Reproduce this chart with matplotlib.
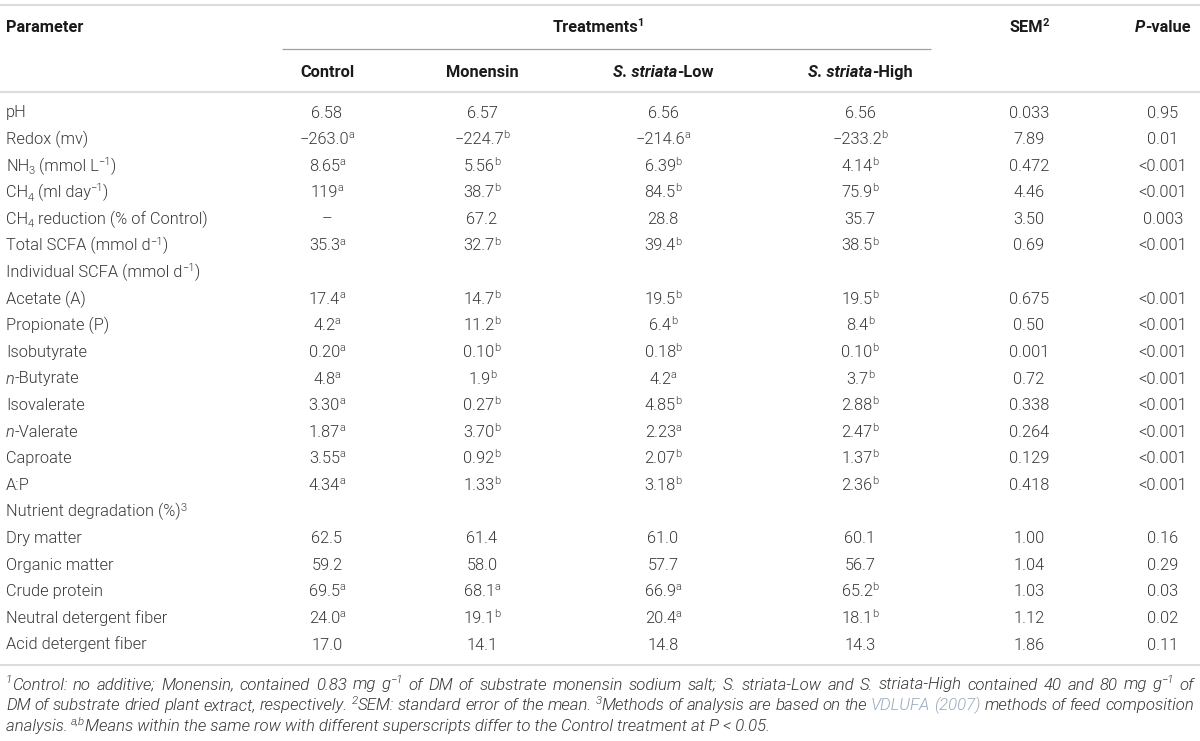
import re
import matplotlib
matplotlib.use("Agg")
import matplotlib.pyplot as plt
from matplotlib.font_manager import FontProperties

# ---------------- data ----------------
parameters = [
    "pH", "Redox (mv)", "NH_{3} (mmol L^{−1})", "CH_{4} (ml day^{−1})",
    "CH_{4} reduction (% of Control)", "Total SCFA (mmol d^{−1})",
    "Individual SCFA (mmol d^{−1})", "Acetate (A)", "Propionate (P)", "Isobutyrate",
    "*n*-Butyrate", "Isovalerate", "*n*-Valerate", "Caproate", "A:P",
    "Nutrient degradation (%)^{3}", "Dry matter", "Organic matter", "Crude protein",
    "Neutral detergent fiber", "Acid detergent fiber",
]
control = ["6.58", "−263.0", "8.65", "119", "–", "35.3", "", "17.4", "4.2", "0.20", "4.8",
           "3.30", "1.87", "3.55", "4.34", "", "62.5", "59.2", "69.5", "24.0", "17.0"]
control_sig = ["", "a", "a", "a", "", "a", "", "a", "a", "a", "a", "a", "a", "a", "a",
               "", "", "", "a", "a", ""]
monensin = ["6.57", "−224.7", "5.56", "38.7", "67.2", "32.7", "", "14.7", "11.2", "0.10", "1.9",
            "0.27", "3.70", "0.92", "1.33", "", "61.4", "58.0", "68.1", "19.1", "14.1"]
monensin_sig = ["", "b", "b", "b", "", "b", "", "b", "b", "b", "b", "b", "b", "b", "b",
                "", "", "", "a", "b", ""]
striata_low = ["6.56", "−214.6", "6.39", "84.5", "28.8", "39.4", "", "19.5", "6.4", "0.18", "4.2",
               "4.85", "2.23", "2.07", "3.18", "", "61.0", "57.7", "66.9", "20.4", "14.8"]
striata_low_sig = ["", "a", "b", "b", "", "b", "", "b", "b", "b", "a", "b", "a", "b", "b",
                   "", "", "", "a", "a", ""]
striata_high = ["6.56", "−233.2", "4.14", "75.9", "35.7", "38.5", "", "19.5", "8.4", "0.10", "3.7",
                "2.88", "2.47", "1.37", "2.36", "", "60.1", "56.7", "65.2", "18.1", "14.3"]
striata_high_sig = ["", "b", "b", "b", "", "b", "", "b", "b", "b", "b", "b", "b", "b", "b",
                    "", "", "", "b", "b", ""]
sem = ["0.033", "7.89", "0.472", "4.46", "3.50", "0.69", "", "0.675", "0.50", "0.001", "0.72",
       "0.338", "0.264", "0.129", "0.418", "", "1.00", "1.04", "1.03", "1.12", "1.86"]
p_value = ["0.95", "0.01", "<0.001", "<0.001", "0.003", "<0.001", "", "<0.001", "<0.001",
           "<0.001", "<0.001", "<0.001", "<0.001", "<0.001", "<0.001", "", "0.16", "0.29",
           "0.03", "0.02", "0.11"]

header_top = ["Parameter", "Treatments^{1}", "SEM^{2}", "*P*-value"]
treatment_labels = ["Control", "Monensin", "*S. striata*-Low", "*S. striata*-High"]

footnotes = [
    "^{1}Control: no additive; Monensin, contained 0.83 mg g^{−1} of DM of substrate monensin sodium salt; "
    "S. striata-Low and S. striata-High contained 40 and 80 mg g^{−1} of",
    "DM of substrate dried plant extract, respectively. ^{2}SEM: standard error of the mean. "
    "^{3}Methods of analysis are based on the #VDLUFA (2007)# methods of feed composition",
    "analysis. ^{a,b}Means within the same row with different superscripts differ to the Control "
    "treatment at P < 0.05.",
]

# ---------------- style ----------------
FAM = ["Roboto", "DejaVu Sans"]
FS = 11.8
FS_FOOT = 12.1
TXT = "#383838"
HDR = "#1a1a1a"
LINK = "#9aabbd"

fig = plt.figure(figsize=(12, 7.41), dpi=100)
ax = fig.add_axes([0, 0, 1, 1])
ax.set_xlim(0, 1200)
ax.set_ylim(741, 0)
ax.axis("off")
renderer = fig.canvas.get_renderer()

_cache = {}


def fprops(size, weight, style):
    return FontProperties(family=FAM, size=size, weight=weight, style=style)


def width(s, fp):
    key = (s, fp.get_size(), fp.get_weight(), fp.get_style())
    if key in _cache:
        return _cache[key]
    t = ax.text(0, 0, "|" + s + "|", fontproperties=fp)
    w = t.get_window_extent(renderer).width
    t.remove()
    t2 = ax.text(0, 0, "||", fontproperties=fp)
    w2 = t2.get_window_extent(renderer).width
    t2.remove()
    _cache[key] = w - w2
    return w - w2


TOKEN = re.compile(r"(_\{[^}]*\}|\^\{[^}]*\}|\*[^*]*\*|#[^#]*#|[^_^*#]+)")


def parse(markup):
    segs = []
    for tok in TOKEN.findall(markup):
        if tok.startswith("_{"):
            segs.append((tok[2:-1], "sub"))
        elif tok.startswith("^{"):
            segs.append((tok[2:-1], "sup"))
        elif tok.startswith("*"):
            segs.append((tok[1:-1], "it"))
        elif tok.startswith("#"):
            segs.append((tok[1:-1], "link"))
        else:
            segs.append((tok, "n"))
    return segs


def rich(x, y, markup, ha="left", size=FS, weight=300, style="normal",
         color=TXT, justify=None):
    segs = parse(markup)
    pieces = []
    for text, kind in segs:
        if justify is not None and kind in ("n", "it", "link"):
            for part in re.split(r"( )", text):
                if part:
                    pieces.append((part, kind))
        else:
            pieces.append((text, kind))
    items = []
    for text, kind in pieces:
        sz = size * 0.68 if kind in ("sup", "sub") else size
        st = "italic" if kind == "it" else style
        fp = fprops(sz, weight, st)
        w = width(text, fp)
        if kind in ("sup", "sub"):
            w -= 0.5
        items.append((text, kind, fp, w))
    total = sum(i[3] for i in items)
    gap = 0.0
    if justify is not None:
        nsp = sum(1 for i in items if i[0] == " ")
        if nsp:
            gap = (justify - total) / nsp
        total = justify
    if ha == "center":
        x0 = x - total / 2
    elif ha == "right":
        x0 = x - total
    else:
        x0 = x
    px_per_pt = 100 / 72.0
    for k, (text, kind, fp, w) in enumerate(items):
        dy = 0.0
        if kind == "sup":
            dy = -0.36 * size * px_per_pt
            x0 -= 0.5
        elif kind == "sub":
            dy = 0.2 * size * px_per_pt
            x0 -= 0.5
        col = LINK if kind == "link" else color
        if text.strip():
            ax.text(x0, y + dy, text, fontproperties=fp, color=col,
                    va="baseline", ha="left")
        x0 += w
        if kind in ("sup", "sub"):
            x0 += 0.5
        if text == " ":
            x0 += gap


# ---------------- layout ----------------
col_x = [327, 482, 663, 860, 1029, 1163]
left_x = 6
row0 = 117.5
row_step = 26.6
hdr1_y = 32
hdr2_y = 77

# rules
ax.plot([0, 1200], [5, 5], color="#dcdcdc", lw=1.5, solid_capstyle="butt")
ax.plot([282, 931], [49, 49], color="#a0a0a0", lw=0.9, solid_capstyle="butt")
ax.plot([0, 1200], [92, 92], color="#dcdcdc", lw=1.5, solid_capstyle="butt")
ax.plot([0, 1200], [665, 665], color="#dcdcdc", lw=1.5, solid_capstyle="butt")

# headers
rich(left_x, hdr1_y, header_top[0], weight="bold", color=HDR)
rich(598, hdr1_y, header_top[1], ha="center", weight="bold", color=HDR)
rich(col_x[4], hdr1_y, header_top[2], ha="center", weight="bold", color=HDR)
rich(col_x[5], hdr1_y, header_top[3], ha="center", weight="bold", color=HDR)
for lab, cx in zip(treatment_labels, col_x[:4]):
    rich(cx, hdr2_y, lab, ha="center", weight="bold", color=HDR)

# body
cols = [(control, control_sig), (monensin, monensin_sig),
        (striata_low, striata_low_sig), (striata_high, striata_high_sig)]
for i, par in enumerate(parameters):
    y = row0 + i * row_step
    rich(left_x, y, par)
    for (vals, sigs), cx in zip(cols, col_x[:4]):
        if vals[i]:
            mk = vals[i] + ("^{" + sigs[i] + "}" if sigs[i] else "")
            rich(cx, y, mk, ha="center")
    if sem[i]:
        rich(col_x[4], y, sem[i], ha="center")
    if p_value[i]:
        rich(col_x[5], y, p_value[i], ha="center")

# footnotes
foot_y = [689.5, 710, 730.5]
for j, (fn, fy) in enumerate(zip(footnotes, foot_y)):
    rich(left_x, fy, fn, size=FS_FOOT, style="italic",
         justify=(1194 - left_x) if j < 2 else None)

fig.savefig("out.png", dpi=100)
